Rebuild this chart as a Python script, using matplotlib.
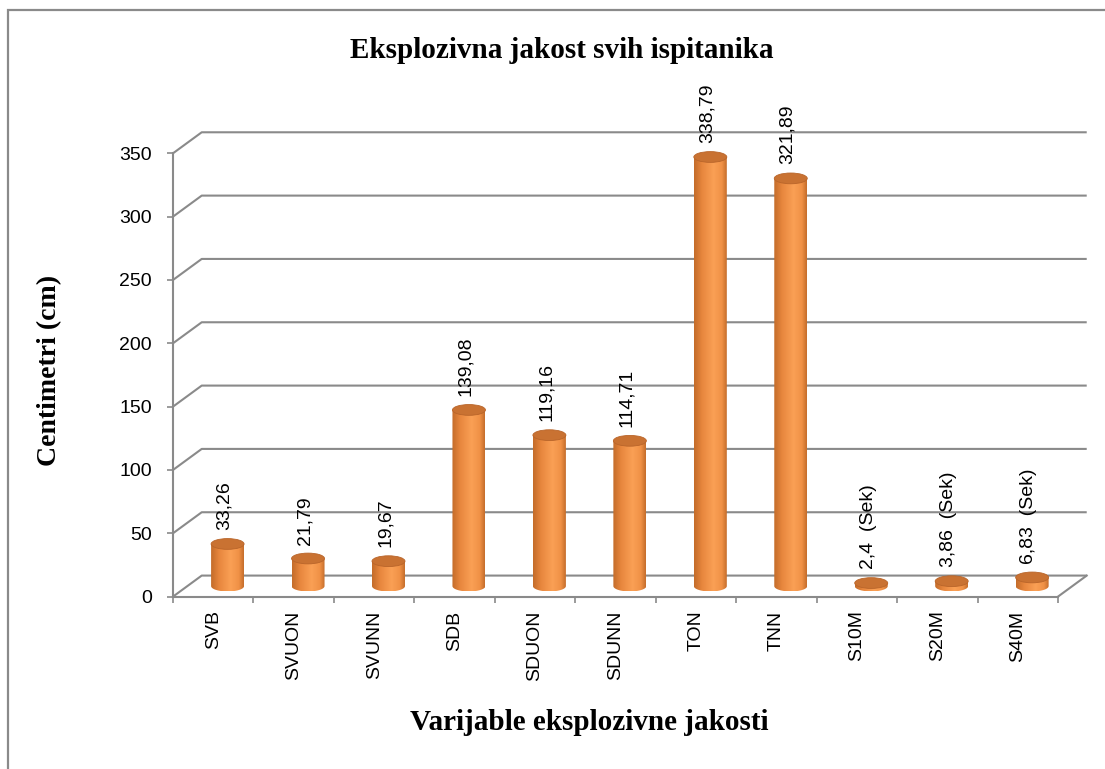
import numpy as np
import matplotlib
matplotlib.use("Agg")
import matplotlib.pyplot as plt
from matplotlib.patches import Ellipse, Polygon, Rectangle

# -------- DATA -------- #
categories = ["SVB", "SVUON", "SVUNN", "SDB", "SDUON", "SDUNN",
              "TON", "TNN", "S10M", "S20M", "S40M"]
values = [33.26, 21.79, 19.67, 139.08, 119.16, 114.71,
          338.79, 321.89, 2.4, 3.86, 6.83]
units = [""] * 8 + ["  (Sek)"] * 3
y_ticks = [0, 50, 100, 150, 200, 250, 300, 350]

title = "Eksplozivna jakost svih ispitanika"
x_title = "Varijable eksplozivne jakosti"
y_title = "Centimetri (cm)"

# -------- STYLE -------- #
W, H = 1105, 769
GRAY = "#8a8a8a"
SANS = "Liberation Sans"
SERIF = "Liberation Serif"

# 3D depth offset of the back wall (category units, value units)
DX = 0.357
DY = 16.6
BAR_W = 0.41
ELL_H = 8.5

fig = plt.figure(figsize=(W / 100, H / 100), dpi=100)
fig.patch.set_facecolor("white")

# chart border (only top and left visible in the original)
fig.patches.append(Rectangle((8 / W, -0.2), 1.3, (H - 10) / H + 0.2,
                             transform=fig.transFigure, fill=False,
                             edgecolor=GRAY, lw=1.6))

ax = fig.add_axes([173 / W, (H - 596.6) / H, 885 / W, 443.3 / H])
ax.set_facecolor("none")
n = len(categories)

# back wall gridlines with the little diagonal to the front axis
for v in y_ticks:
    ax.plot([0, DX, n + DX], [v, v + DY, v + DY], color=GRAY, lw=1.5,
            clip_on=False, zorder=1, solid_capstyle="butt")
# floor right edge
ax.plot([n, n + DX], [0, DY], color=GRAY, lw=1.5, clip_on=False, zorder=1)

# body gradient (left dark -> highlight -> right dark)
stops = np.array([0.0, 0.25, 0.6, 0.85, 1.0])
cols = np.array([[196, 108, 42], [232, 135, 62], [250, 160, 85],
                 [240, 145, 70], [198, 110, 44]]) / 255.0
t = np.linspace(0, 1, 64)
grad = np.stack([np.interp(t, stops, cols[:, k]) for k in range(3)], axis=-1)[None, :, :]

theta = np.linspace(np.pi, 2 * np.pi, 40)
for i, v in enumerate(values):
    cx = i + 0.5 + DX / 2
    yb = DY / 2
    yt = v + DY / 2
    x0, x1 = cx - BAR_W / 2, cx + BAR_W / 2
    # outline: bottom half ellipse then up and across the top
    bx = cx + BAR_W / 2 * np.cos(theta)
    by = yb + ELL_H / 2 * np.sin(theta)
    pts = np.column_stack([np.r_[bx, x1, x0], np.r_[by, yt, yt]])
    clip = Polygon(pts, closed=True, transform=ax.transData)
    im = ax.imshow(grad, extent=[x0, x1, yb - ELL_H / 2, yt], aspect="auto",
                   interpolation="bilinear", zorder=3)
    im.set_clip_path(clip)
    ax.add_patch(Ellipse((cx, yt), BAR_W, ELL_H, facecolor="#c97232",
                         edgecolor="#b9652a", lw=0.6, zorder=4, clip_on=False))
    label = f"{v:g}".replace(".", ",") + units[i]
    ax.text(cx - 0.04, yt + 11, label, rotation=90, ha="center", va="bottom",
            fontsize=14, family=SANS, zorder=5)

ax.set_xlim(0, n)
ax.set_ylim(0, 350)

# spines
for s in ("top", "right"):
    ax.spines[s].set_visible(False)
for s in ("left", "bottom"):
    ax.spines[s].set_color(GRAY)
    ax.spines[s].set_linewidth(1.5)

ax.set_yticks(y_ticks)
ax.set_yticklabels([str(v) for v in y_ticks], family=SANS, fontsize=14)
ax.tick_params(axis="y", length=4.3, width=1.2, color=GRAY, pad=11)

ax.set_xticks(np.arange(n) + 0.5)
ax.set_xticklabels(categories, rotation=90, family=SANS, fontsize=14,
                   va="top", ha="center")
ax.set_xticks(np.arange(n + 1), minor=True)
ax.tick_params(axis="x", which="major", length=0, pad=10)
ax.tick_params(axis="x", which="minor", length=4.3, width=1.2, color=GRAY)

# titles
fig.text(562 / W, 1 - 50 / H, title, ha="center", va="center",
         family=SERIF, fontweight="bold", fontsize=21)
fig.text(589 / W, 1 - 722 / H, x_title, ha="center", va="center",
         family=SERIF, fontweight="bold", fontsize=21)
fig.text(50 / W, 1 - 370 / H, y_title, ha="center", va="center", rotation=90,
         family=SERIF, fontweight="bold", fontsize=20)

fig.savefig("out.png", dpi=100)
